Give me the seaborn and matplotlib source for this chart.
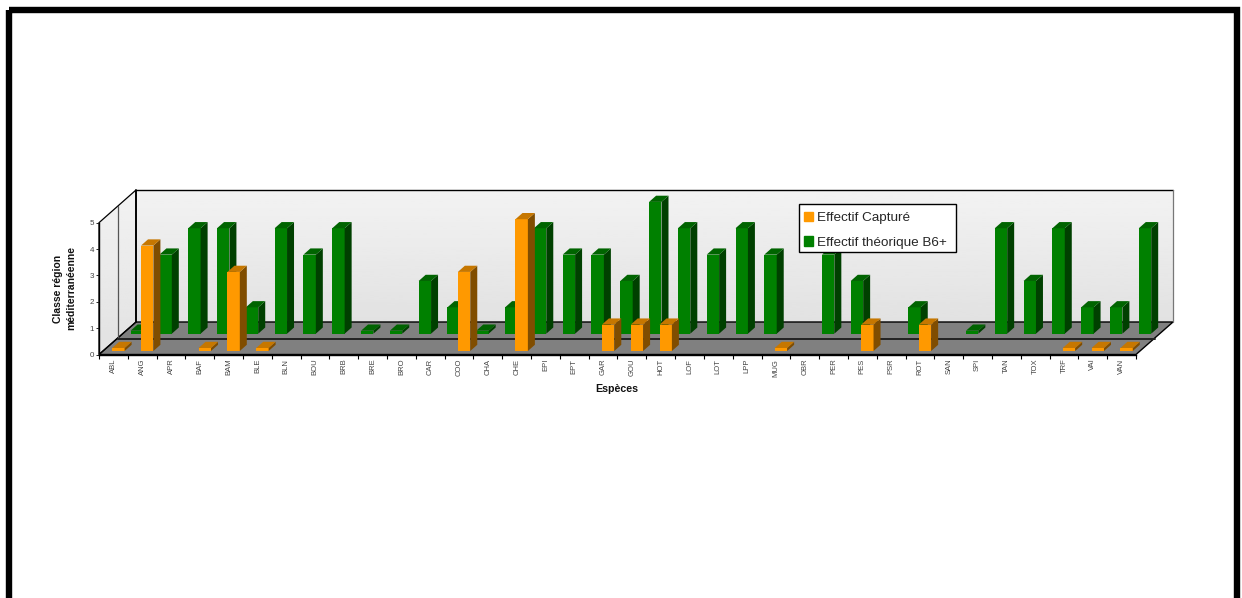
import numpy as np
import pandas as pd
import matplotlib
matplotlib.use('Agg')
import matplotlib.pyplot as plt
from matplotlib.patches import Polygon, Patch, Rectangle
from matplotlib.transforms import Affine2D, IdentityTransform
import seaborn as sns

nan = np.nan
codes = ['ABL', 'ANG', 'APR', 'BAF', 'BAM', 'BLE', 'BLN', 'BOU', 'BRB', 'BRE', 'BRO', 'CAR',
         'COO', 'CHA', 'CHE', 'EPI', 'EPT', 'GAR', 'GOU', 'HOT', 'LOF', 'LOT', 'LPP', 'MUG',
         'OBR', 'PER', 'PES', 'PSR', 'ROT', 'SAN', 'SPI', 'TAN', 'TOX', 'TRF', 'VAI', 'VAN']
captured = [0, 4, nan, 0, 3, 0, nan, nan, nan, nan, nan, nan,
            3, nan, 5, nan, nan, 1, 1, 1, nan, nan, nan, 0,
            nan, nan, 1, nan, 1, nan, nan, nan, nan, 0, 0, 0]
theoretical = [0, 3, 4, 4, 1, 4, 3, 4, 0, 0, 2, 1,
               0, 1, 4, 3, 3, 2, 5, 4, 3, 4, 3, nan,
               3, 2, nan, 1, nan, 0, 4, 2, 4, 1, 1, 4]
y_ticks = [0, 1, 2, 3, 4, 5]

W, H = 1242, 598
FRONT_L, FRONT_R, FRONT_Y = 99, 1136, 354.5
BACK_L, BACK_R, BACK_Y, TOP_Y = 136, 1173, 322, 190
UNIT = 26.36

sns.set_style('white')
plt.rcParams['font.family'] = ['Liberation Sans', 'DejaVu Sans']

df = pd.DataFrame({'code': codes, 'captured': captured, 'theoretical': theoretical})

fig = plt.figure(figsize=(W / 100, H / 100), dpi=100)

# background in pixel coordinates: frame, walls, floor
bg = fig.add_axes([0, 0, 1, 1])
bg.axis('off')
grad = np.linspace(0.95, 0.885, 64).reshape(-1, 1)
bg.imshow(grad, extent=(BACK_L, BACK_R, BACK_Y, TOP_Y), cmap='gray', vmin=0, vmax=1, aspect='auto')
side = bg.imshow(grad, extent=(FRONT_L, BACK_L, FRONT_Y, TOP_Y), cmap='gray', vmin=0, vmax=1, aspect='auto')
left_wall = [(FRONT_L, FRONT_Y), (BACK_L, BACK_Y), (BACK_L, TOP_Y), (FRONT_L, FRONT_Y - 5 * UNIT)]
clip = Polygon(left_wall, transform=bg.transData, fill=False, lw=0)
bg.add_patch(clip)
side.set_clip_path(clip)
bg.set_xlim(0, W)
bg.set_ylim(H, 0)

bg.add_patch(Rectangle((9, 10), W - 9 - 5.5, H + 20, fill=False, ec='black', lw=4.6))
bg.add_patch(Polygon([(FRONT_L, FRONT_Y), (BACK_L, BACK_Y), (BACK_R, BACK_Y), (FRONT_R, FRONT_Y)],
                     fc='#808080', ec='black', lw=1))
bg.add_patch(Polygon(left_wall, fill=False, ec='black', lw=0.9))
bg.plot([BACK_L, BACK_R], [TOP_Y, TOP_Y], color='black', lw=1)
bg.plot([BACK_L, BACK_L], [TOP_Y, BACK_Y], color='black', lw=1.3)
bg.plot([BACK_R, BACK_R], [TOP_Y, BACK_Y], color='#777777', lw=0.9)
bg.plot([117.5, 117.5], [206, 338], color='#555555', lw=0.9)
bg.plot([117.5, 1154.5], [338.5, 338.5], color='#222222', lw=1.4)

# front plane of the chart, the bars are pushed back from there
ax = fig.add_axes([FRONT_L / W, 1 - FRONT_Y / H, (FRONT_R - FRONT_L) / W, 5 * UNIT / H])
ax.patch.set_alpha(0)


def extrude(patches, dx, dy, front, top, right, z):
    sliver = 3 / UNIT
    for p in patches:
        if np.isnan(p.get_height()):
            continue
        if p.get_height() == 0:
            p.set_height(sliver)
        p.set_transform(ax.transData + Affine2D().translate(dx, dy))
        p.set(facecolor=front, edgecolor='none', linewidth=0, zorder=z, clip_on=False)
        x0, y0 = ax.transData.transform((p.get_x(), 0)) + (dx, dy)
        x1, y1 = ax.transData.transform((p.get_x() + p.get_width(), p.get_height())) + (dx, dy)
        d = (7, 6.2)
        ax.add_patch(Polygon([(x1, y0), (x1 + d[0], y0 + d[1]), (x1 + d[0], y1 + d[1]), (x1, y1)],
                             transform=IdentityTransform(), fc=right, ec='none', zorder=z, clip_on=False))
        ax.add_patch(Polygon([(x0, y1), (x0 + d[0], y1 + d[1]), (x1 + d[0], y1 + d[1]), (x1, y1)],
                             transform=IdentityTransform(), fc=top, ec='none', zorder=z, clip_on=False))


sns.barplot(data=df, x='code', y='theoretical', order=codes, color='#008000', saturation=1,
            width=0.43, ax=ax)
ax.set_xlim(-0.5, 35.5)
ax.set_ylim(0, 5)
fig.canvas.draw()
green_bars = list(ax.patches)
extrude(green_bars, 23.4, 20.8, '#008000', '#006400', '#004000', 3)

n_before = len(ax.patches)
sns.barplot(data=df, x='code', y='captured', order=codes, color='#FF9900', saturation=1,
            width=0.43, ax=ax)
ax.set_xlim(-0.5, 35.5)
ax.set_ylim(0, 5)
orange_bars = [p for p in ax.patches[n_before:]]
extrude(orange_bars, 5.0, 3.5, '#FF9900', '#C67700', '#804D00', 5)

sns.despine(ax=ax)
for s in ['left', 'bottom']:
    ax.spines[s].set_linewidth(1)
    ax.spines[s].set_color('black')

ax.set_yticks(y_ticks)
ax.set_xticks(range(len(codes)))
ax.set_xticklabels(codes, rotation=90, fontsize=5.5, color='#444444')
ax.set_xticks(np.arange(-0.5, 36, 1), minor=True)
ax.tick_params(axis='x', which='major', length=0, pad=3)
ax.tick_params(axis='x', which='minor', length=3, width=0.8, color='black', bottom=True)
ax.tick_params(axis='y', length=2.5, width=0.7, labelsize=5.8, pad=1, labelcolor='#444444', left=True)
ax.set_xlabel('')
ax.set_ylabel('')

fig.text(617 / W, 1 - 389.5 / H, 'Espèces', ha='center', va='center', fontsize=7.7, fontweight='bold',
         color='#111111')
fig.text(64.5 / W, 1 - 288.5 / H, 'Classe région\nméditerranéenne', ha='center', va='center', rotation=90,
         fontsize=7.5, fontweight='bold', linespacing=1.38, color='#111111')

# legend box is wider than the legend's own padding gives, so it is drawn apart
ax.add_patch(Rectangle((799, H - 252), 157, 48, transform=IdentityTransform(), fc='white', ec='black',
                       lw=1, zorder=19, clip_on=False))
handles = [Patch(color='#FF9900', label='Effectif Capturé'),
           Patch(color='#008000', label='Effectif théorique B6+')]
leg = ax.legend(handles=handles, loc='upper left', bbox_to_anchor=(799 / W, 1 - 206.5 / H),
                bbox_transform=fig.transFigure, fontsize=9.7, frameon=False, borderaxespad=0,
                borderpad=0.38, handlelength=0.68, handleheight=0.68, handletextpad=0.3,
                labelspacing=0.92)
leg.set_zorder(20)

fig.savefig('out.png', dpi=100)
